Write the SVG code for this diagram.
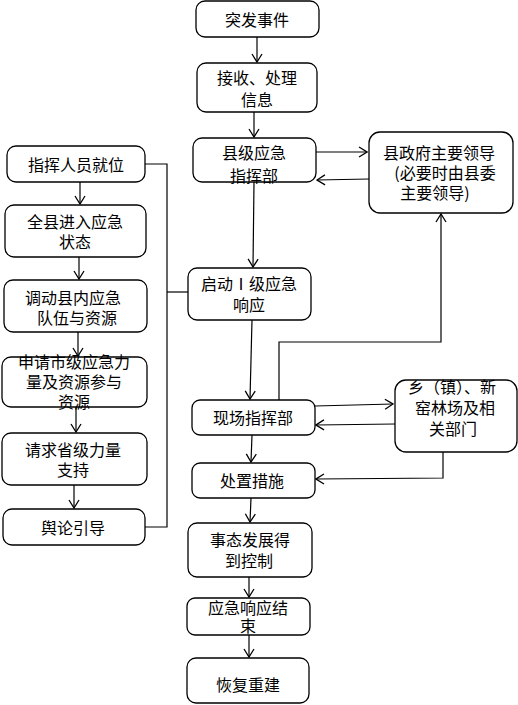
<svg xmlns="http://www.w3.org/2000/svg" width="518" height="705" viewBox="0 0 518 705">
<style>
.b{fill:#fff;stroke:#000;stroke-width:1.3}
.t{font-family:"Noto Sans CJK SC","Liberation Sans",sans-serif;font-size:16px;fill:#000;text-anchor:middle}
.c{fill:none;stroke:#000;stroke-width:1.2}
</style>
<defs>
<marker id="a" markerUnits="userSpaceOnUse" markerWidth="10" markerHeight="12" viewBox="0 0 10 12" refX="9" refY="6" orient="auto">
<path d="M1,1 L9,6 L1,11" fill="none" stroke="#000" stroke-width="1.3"/>
</marker>
</defs>
<rect width="518" height="705" fill="#fff"/>
<g id="connectors">
<path class="c" d="M257,37 L257,62" marker-end="url(#a)"/>
<path class="c" d="M254,112 L254,137" marker-end="url(#a)"/>
<path class="c" d="M316,152 L367,152" marker-end="url(#a)"/>
<path class="c" d="M369,179 L317,180" marker-end="url(#a)"/>
<path class="c" d="M254,182 L253,267" marker-end="url(#a)"/>
<path class="c" d="M252,320 L250,399" marker-end="url(#a)"/>
<path class="c" d="M279,400 L279,342 L441,342 L441,214" marker-end="url(#a)"/>
<path class="c" d="M315,406 L393,404" marker-end="url(#a)"/>
<path class="c" d="M395,424 L316,425" marker-end="url(#a)"/>
<path class="c" d="M252,435 L251,462" marker-end="url(#a)"/>
<path class="c" d="M443,452 L443,478 L316,479" marker-end="url(#a)"/>
<path class="c" d="M251,498 L250,522" marker-end="url(#a)"/>
<path class="c" d="M249,577 L249,597" marker-end="url(#a)"/>
<path class="c" d="M249,635 L249,657" marker-end="url(#a)"/>
<path class="c" d="M80,182 L80,204" marker-end="url(#a)"/>
<path class="c" d="M79,257 L79,279" marker-end="url(#a)"/>
<path class="c" d="M78,332 L78,356" marker-end="url(#a)"/>
<path class="c" d="M76,407 L76,432" marker-end="url(#a)"/>
<path class="c" d="M74,485 L74,508" marker-end="url(#a)"/>
<path class="c" d="M145,164 L167,164 L167,527 L145,527"/>
<path class="c" d="M167,292 L188,292"/>
</g>
<g id="n1"><rect class="b" x="196" y="1" width="123" height="36" rx="9"/><text class="t" x="257" y="26">突发事件</text></g>
<g id="n2"><rect class="b" x="197" y="63" width="120" height="49" rx="9"/><text class="t" x="257" y="84">接收、处理</text><text class="t" x="257" y="106">信息</text></g>
<g id="n3"><rect class="b" x="193" y="138" width="123" height="44" rx="9"/><text class="t" x="254" y="159">县级应急</text><text class="t" x="254" y="182">指挥部</text></g>
<g id="n4"><rect class="b" x="369" y="132" width="144" height="81" rx="11"/><text class="t" x="439" y="159">县政府主要领导</text><text class="t" x="445" y="179">(必要时由县委</text><text class="t" x="435" y="199">主要领导)</text></g>
<g id="n5"><rect class="b" x="188" y="268" width="123" height="52" rx="9"/><text class="t" x="249" y="290">启动Ⅰ级应急</text><text class="t" x="249" y="311">响应</text></g>
<g id="n6"><rect class="b" x="192" y="400" width="123" height="35" rx="8"/><text class="t" x="253" y="424">现场指挥部</text></g>
<g id="n7"><rect class="b" x="395" y="380" width="122" height="72" rx="11"/><text class="t" x="452" y="393">乡（镇）、新</text><text class="t" x="455" y="414">窑林场及相</text><text class="t" x="453" y="435">关部门</text></g>
<g id="n8"><rect class="b" x="192" y="463" width="123" height="35" rx="8"/><text class="t" x="252" y="487">处置措施</text></g>
<g id="n9"><rect class="b" x="188" y="523" width="124" height="54" rx="9"/><text class="t" x="250" y="546">事态发展得</text><text class="t" x="249" y="567">到控制</text></g>
<g id="n10"><rect class="b" x="187" y="598" width="123" height="37" rx="8"/><text class="t" x="248" y="614">应急响应结</text><text class="t" x="248" y="632">束</text></g>
<g id="n11"><rect class="b" x="187" y="658" width="122" height="45" rx="9"/><text class="t" x="248" y="691">恢复重建</text></g>
<g id="n12"><rect class="b" x="7" y="146" width="138" height="36" rx="9"/><text class="t" x="76" y="171">指挥人员就位</text></g>
<g id="n13"><rect class="b" x="5" y="205" width="141" height="52" rx="9"/><text class="t" x="75" y="228">全县进入应急</text><text class="t" x="75" y="248">状态</text></g>
<g id="n14"><rect class="b" x="4" y="280" width="143" height="52" rx="9"/><text class="t" x="73" y="304">调动县内应急</text><text class="t" x="77" y="324">队伍与资源</text></g>
<g id="n15"><rect class="b" x="2" y="357" width="145" height="50" rx="9"/><text class="t" x="74" y="368">申请市级应急力</text><text class="t" x="74" y="388">量及资源参与</text><text class="t" x="74" y="408">资源</text></g>
<g id="n16"><rect class="b" x="2" y="433" width="145" height="52" rx="9"/><text class="t" x="73" y="456">请求省级力量</text><text class="t" x="73" y="476">支持</text></g>
<g id="n17"><rect class="b" x="3" y="509" width="142" height="36" rx="9"/><text class="t" x="73" y="534">舆论引导</text></g>
</svg>
